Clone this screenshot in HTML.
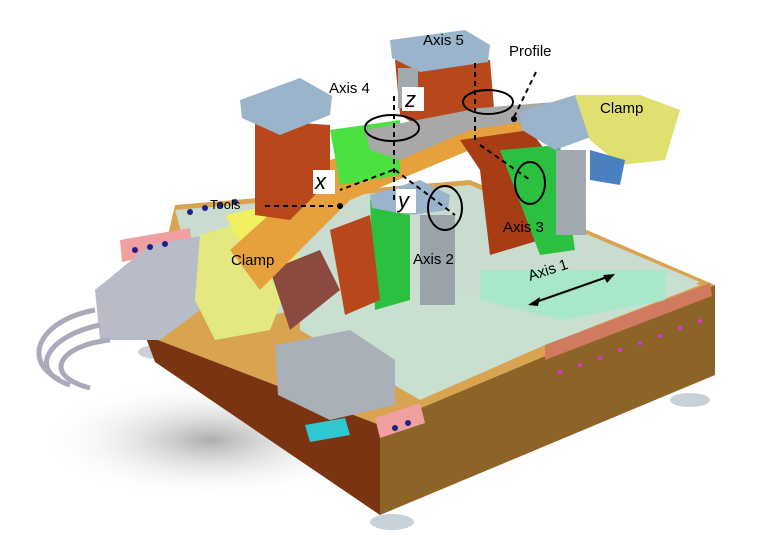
<!DOCTYPE html>
<html><head><style>
html,body{margin:0;padding:0;background:#fff;width:768px;height:555px;overflow:hidden}
svg{display:block}
text{font-family:"Liberation Sans",sans-serif;fill:#000}
</style></head><body>
<svg width="768" height="555" viewBox="0 0 768 555">
<defs>
<radialGradient id="sh" cx="0.5" cy="0.5" r="0.5"><stop offset="0" stop-color="#777" stop-opacity="0.6"/><stop offset="1" stop-color="#fff" stop-opacity="0"/></radialGradient>
</defs>
<ellipse cx="210" cy="440" rx="170" ry="60" fill="url(#sh)"/>
<ellipse cx="158" cy="352" rx="20" ry="7" fill="#c8d0d8"/>
<ellipse cx="392" cy="522" rx="22" ry="8" fill="#c8d0d8"/>
<ellipse cx="690" cy="400" rx="20" ry="7" fill="#c8d0d8"/>
<!-- base left front face -->
<polygon points="145,335 380,425 380,515 155,362" fill="#7a3412"/>
<!-- base right front face -->
<polygon points="380,425 715,285 715,375 380,515" fill="#8d6428"/>
<!-- base top -->
<polygon points="145,335 175,205 470,180 715,285 380,425" fill="#d9a450"/>
<polygon points="175,210 470,185 700,282 560,340 420,290 240,320 200,300" fill="#c9dccf"/>
<polygon points="300,270 560,300 650,270 700,285 545,345 420,400 300,330" fill="#c9dfd0"/>
<polygon points="480,270 665,270 665,300 560,320 480,300" fill="#a8e8c8"/>
<polygon points="545,345 710,283 712,296 545,360" fill="#d07a60"/>
<polygon points="375,418 420,403 425,423 380,438" fill="#f0a0a0"/>
<polygon points="120,240 190,228 192,248 122,262" fill="#f0a0a0"/>
<polygon points="275,345 350,330 395,360 395,405 330,420 278,395" fill="#a9b0b8"/>
<polygon points="305,425 345,418 350,435 310,442" fill="#30c8d0"/>
<polygon points="95,290 150,245 235,230 240,280 160,340 100,340" fill="#b8bcc8"/>
<path d="M95,310 C40,320 20,360 60,380 M100,325 C50,335 25,370 70,385 M110,340 C60,345 40,375 90,388" stroke="#aab" stroke-width="5" fill="none"/>
<polygon points="200,235 265,215 300,255 270,330 215,340 195,300" fill="#e4e880"/>
<polygon points="225,215 270,205 295,235 245,250" fill="#f2f060"/>
<polygon points="270,270 320,250 340,290 290,330" fill="#8a4a40"/>
<polygon points="230,250 330,160 470,120 560,110 560,135 470,150 350,200 260,290" fill="#e6a13c"/>
<polygon points="255,120 330,125 330,180 290,220 255,215" fill="#b8481c"/>
<polygon points="330,130 400,120 400,175 340,185" fill="#4ce040"/>
<polygon points="395,60 490,60 495,120 440,140 400,115" fill="#b8481c"/>
<polygon points="460,140 530,130 545,150 540,240 490,255 480,170" fill="#a83c14"/>
<polygon points="500,150 560,145 575,250 540,255" fill="#2cc040"/>
<polygon points="370,200 410,210 410,300 375,310" fill="#2cc040"/>
<polygon points="330,230 370,215 380,300 345,315" fill="#b8481c"/>
<polygon points="365,130 480,108 580,100 585,112 470,130 400,160 370,150" fill="#a8a8a8"/>
<polygon points="240,100 300,78 332,96 330,115 280,135 242,118" fill="#9ab4cc"/>
<polygon points="390,40 465,30 490,45 488,62 420,72 392,58" fill="#9ab4cc"/>
<polygon points="520,112 575,95 612,115 610,130 555,150 522,130" fill="#9ab4cc"/>
<polygon points="370,195 420,180 450,195 448,210 410,215 372,208" fill="#9ab4cc"/>
<rect x="556" y="150" width="30" height="85" fill="#a0a8b0"/>
<rect x="420" y="215" width="35" height="90" fill="#9aa2aa"/>
<rect x="398" y="68" width="20" height="40" fill="#a0a8b0"/>
<polygon points="575,95 640,95 680,110 665,160 620,165 590,140" fill="#e0e070"/>
<polygon points="590,150 625,160 620,185 590,180" fill="#4a80c0"/>
<g fill="#20208a">
<circle cx="190" cy="212" r="3"/><circle cx="205" cy="208" r="3"/><circle cx="220" cy="205" r="3"/><circle cx="235" cy="202" r="3"/>
<circle cx="135" cy="250" r="3"/><circle cx="150" cy="247" r="3"/><circle cx="165" cy="244" r="3"/>
<circle cx="395" cy="428" r="3"/><circle cx="408" cy="423" r="3"/>
</g>
<g fill="#e030e0">
<circle cx="560" cy="372" r="2"/><circle cx="580" cy="365" r="2"/><circle cx="600" cy="358" r="2"/><circle cx="620" cy="350" r="2"/><circle cx="640" cy="343" r="2"/><circle cx="660" cy="336" r="2"/><circle cx="680" cy="328" r="2"/><circle cx="700" cy="321" r="2"/>
</g>
<g stroke="#000" stroke-width="2" fill="none">
<line x1="394" y1="200" x2="394" y2="95" stroke-dasharray="5,4"/>
<line x1="475" y1="140" x2="475" y2="60" stroke-dasharray="5,4"/>
<line x1="393" y1="170" x2="340" y2="190" stroke-dasharray="5,4"/>
<line x1="395" y1="170" x2="455" y2="215" stroke-dasharray="5,4"/>
<line x1="480" y1="145" x2="530" y2="180" stroke-dasharray="5,4"/>
<line x1="265" y1="206" x2="340" y2="206" stroke-dasharray="5,4"/>
<line x1="514" y1="117" x2="537" y2="70" stroke-dasharray="5,4"/>
<ellipse cx="392" cy="128" rx="27" ry="13"/>
<ellipse cx="488" cy="102" rx="25" ry="12"/>
<ellipse cx="445" cy="208" rx="17" ry="22"/>
<ellipse cx="530" cy="183" rx="15" ry="21"/>
<line x1="533" y1="303" x2="610" y2="276"/>
</g>
<polygon points="528,305 540,297 538,306" fill="#000"/>
<polygon points="615,274 603,275 607,283" fill="#000"/>
<circle cx="340" cy="206" r="3" fill="#000"/><circle cx="514" cy="119" r="3" fill="#000"/>
<rect x="402" y="87" width="22" height="24" fill="#fff"/>
<rect x="313" y="170" width="22" height="24" fill="#fff"/>
<rect x="396" y="189" width="20" height="24" fill="#fff"/>
<text x="405" y="107" font-size="22" font-style="italic">z</text>
<text x="315" y="189" font-size="22" font-style="italic">x</text>
<text x="398" y="208" font-size="22" font-style="italic">y</text>
<text x="423" y="45" font-size="15">Axis 5</text>
<text x="509" y="56" font-size="15">Profile</text>
<text x="329" y="93" font-size="15">Axis 4</text>
<text x="600" y="113" font-size="15">Clamp</text>
<text x="210" y="209" font-size="13">Tools</text>
<text x="503" y="232" font-size="15">Axis 3</text>
<text x="231" y="265" font-size="15">Clamp</text>
<text x="413" y="264" font-size="15">Axis 2</text>
<text x="530" y="281" font-size="15" transform="rotate(-18 530 281)">Axis 1</text>
</svg>
</body></html>
